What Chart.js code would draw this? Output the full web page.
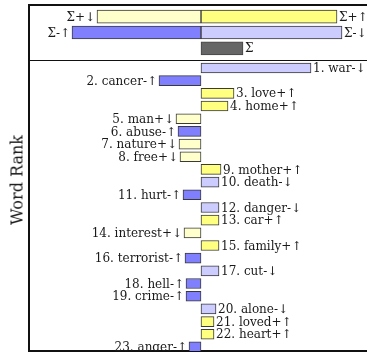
<!DOCTYPE html>
<html>
<head>
<meta charset="utf-8">
<script src="https://cdn.jsdelivr.net/npm/chart.js@4"></script>
<style>
    html, body { margin: 0; padding: 0; background: #fff; overflow: hidden; }
    #wrap { position: relative; width: 367px; height: 354px; overflow: hidden; }
    canvas { position: absolute; left: 0; top: 0; }
    #ytitle {
        position: absolute; left: 17px; top: 180px;
        transform: translate(-50%, -50%) rotate(-90deg);
        font: 16px 'DejaVu Serif'; color: #1a1a1a; white-space: nowrap;
    }
</style>
</head>
<body>
<div id="wrap">
    <canvas id="sumChart" width="380" height="354"></canvas>
    <canvas id="rankChart" width="380" height="354"></canvas>
    <div id="ytitle">Word Rank</div>
</div>
<script>
// words in rank order, with sentiment sign and change direction
const words = ['war', 'cancer', 'love', 'home', 'man', 'abuse', 'nature', 'free', 'mother', 'death', 'hurt', 'danger',
    'car', 'interest', 'family', 'terrorist', 'cut', 'hell', 'crime', 'alone', 'loved', 'heart', 'anger'];
const signs = ['-', '-', '+', '+', '+', '-', '+', '+', '+', '-', '-', '-', '+', '+', '+', '-', '-', '-', '-', '-', '+', '+', '-'];
const arrows = ['↓', '↑', '↑', '↑', '↓', '↑', '↓', '↓', '↑', '↓', '↑', '↓', '↑', '↓', '↑', '↑', '↓', '↑', '↑', '↓', '↑', '↑', '↑'];
const values = [110, -42, 33, 27, -25, -23, -22, -21, 20, 18, -18, 18, 18, -17, 18, -16, 18, -15, -15, 15, 13, 13, -12];

// totals in the top panel
const sumNegLabels = ['Σ+↓', 'Σ-↑'];
const sumNegValues = [-104, -129];
const sumPosLabels = ['Σ+↑', 'Σ-↓', 'Σ'];
const sumPosValues = [136, 141, 42];

const groupColors = {
    '+↑': '#ffff80',
    '+↓': '#ffffcc',
    '-↑': '#8080ff',
    '-↓': '#ccccff',
    'Σ': '#666666'
};

const FONT = '12px "DejaVu Serif"';

// draw the text at the end of every bar
const barLabels = {
    id: 'barLabels',
    afterDatasetsDraw(chart) {
        const ctx = chart.ctx;
        const area = chart.chartArea;
        ctx.save();
        ctx.beginPath();
        ctx.rect(0, area.top, chart.width, area.bottom - area.top);
        ctx.clip();
        ctx.font = FONT;
        ctx.fillStyle = '#1a1a1a';
        ctx.textBaseline = 'middle';
        chart.data.datasets.forEach((ds, i) => {
            chart.getDatasetMeta(i).data.forEach((bar, j) => {
                const v = ds.data[j].x;
                ctx.textAlign = v < 0 ? 'right' : 'left';
                ctx.fillText(ds.barText[j], bar.x + (v < 0 ? -2 : 2), bar.y + 1);
            });
        });
        ctx.restore();
    }
};

function hiddenAxis(extra) {
    return Object.assign({
        type: 'linear',
        offset: false,
        ticks: { display: false },
        grid: { display: false, drawTicks: false },
        border: { display: true, color: '#111', width: 2 }
    }, extra);
}

const barStyle = {
    borderColor: '#3a3a3a',
    borderWidth: 1,
    borderSkipped: false,
    grouped: false
};

// top panel: totals
new Chart(document.getElementById('sumChart'), {
    type: 'bar',
    data: {
        datasets: [
            Object.assign({
                data: sumNegValues.map((v, i) => ({ x: v, y: i + 1 })),
                backgroundColor: sumNegLabels.map(l => groupColors[l.slice(1)]),
                barText: sumNegLabels,
                barThickness: 13
            }, barStyle),
            Object.assign({
                data: sumPosValues.map((v, i) => ({ x: v, y: i + 1 })),
                backgroundColor: sumPosLabels.map(l => groupColors[l.slice(1)] || groupColors['Σ']),
                barText: sumPosLabels,
                barThickness: 13
            }, barStyle, { borderColor: sumPosLabels.map(l => l === 'Σ' ? '#444' : '#3a3a3a') })
        ]
    },
    options: {
        indexAxis: 'y',
        responsive: false,
        animation: false,
        layout: { padding: { left: 29, right: 7, top: 5, bottom: 294 } },
        plugins: { legend: { display: false }, tooltip: { enabled: false } },
        scales: {
            x: hiddenAxis({ position: 'top', min: -172, max: 172 }),
            y: hiddenAxis({ reverse: true, min: 0.26, max: 3.74 })
        }
    },
    plugins: [barLabels]
});

// bottom panel: words by rank
new Chart(document.getElementById('rankChart'), {
    type: 'bar',
    data: {
        datasets: [Object.assign({
            data: values.map((v, i) => ({ x: v, y: i + 1 })),
            backgroundColor: words.map((w, i) => groupColors[signs[i] + arrows[i]]),
            barText: words.map((w, i) => `${i + 1}. ${w}${signs[i]}${arrows[i]}`),
            barThickness: 10
        }, barStyle)]
    },
    options: {
        indexAxis: 'y',
        responsive: false,
        animation: false,
        layout: { padding: { left: 29, right: 7, top: 60, bottom: 3 } },
        plugins: { legend: { display: false }, tooltip: { enabled: false } },
        scales: {
            x: hiddenAxis({ position: 'bottom', min: -172, max: 172 }),
            x2: hiddenAxis({ position: 'top', min: -172, max: 172, border: { display: true, color: '#111', width: 1 } }),
            y: hiddenAxis({ reverse: true, min: 0.37, max: 23.32 })
        }
    },
    plugins: [barLabels]
});
</script>
</body>
</html>
